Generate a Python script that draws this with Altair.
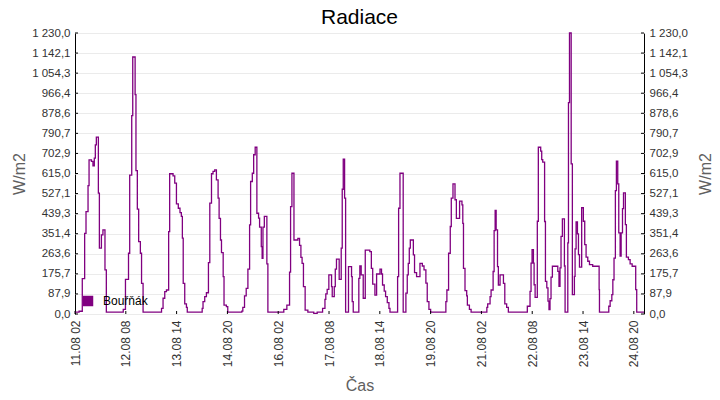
import altair as alt
import pandas as pd

title_text = "Radiace"
series_name = "Bouřňák"
x_title = "Čas"
y_title = "W/m2"

# hours since 11.08 02:00 where the step value changes
hours = [
    0, 2.4, 4.3, 5.7, 6.5, 7.7, 8.3, 9.7, 10.6, 11.4, 12.0, 12.6, 13.8, 14.4, 15.6, 16.5, 17.7, 18.5,
    28.5, 29.8, 31.6, 32.3, 33.5, 34.1, 35.5, 36.0, 36.8, 37.6, 38.6, 39.3, 40.2,
    51.1, 52.0, 53.0, 54.0, 55.3, 55.9, 57.9, 58.9, 59.9, 61.0, 62.0, 62.8, 63.4, 63.9, 64.8, 65.8, 66.3,
    75.1, 75.6, 76.6, 77.6, 78.8, 79.6, 80.6, 81.5, 82.5, 83.5, 84.5, 85.1, 85.9, 86.5, 87.5, 88.0, 89.4, 90.2,
    98.5, 99.1, 100.1, 101.1, 102.1, 103.1, 103.7, 104.7, 105.5, 106.4, 107.4, 108.4, 109.0, 110.0, 110.5, 111.0, 111.8, 113.3, 113.9,
    123.3, 125.1, 126.7, 127.3, 128.1, 129.3, 131.6, 132.6, 133.4, 134.1, 134.9, 135.9, 137.5, 141.0, 143.0,
    146.2, 147.6, 148.1, 148.9, 149.9, 151.5, 151.9, 153.1, 153.7, 154.4, 156.0, 157.2, 157.8, 158.4, 159.2, 159.8, 161.5, 163.3, 163.7, 164.3,
    167.6, 168.2, 169.0, 170.2, 171.4, 174.1, 175.0, 175.8, 177.1, 178.1, 180.1, 181.0, 181.6, 182.6, 183.4, 184.4, 185.4, 186.0,
    190.5, 191.1, 191.9, 193.8, 195.4, 196.2, 196.8, 197.4, 198.0, 199.8, 200.5, 201.7, 203.7, 205.1, 206.1, 207.2, 208.0, 209.0, 210.0,
    219.0, 219.6, 220.6, 221.6, 222.2, 223.2, 224.4, 225.2, 227.1, 228.5, 229.0, 229.4, 230.3, 231.3, 231.7, 232.9, 233.9,
    243.2, 243.7, 245.1, 245.7, 246.9, 247.5, 248.1, 248.7, 249.5, 250.0, 251.0, 253.0, 253.8, 254.9, 255.9,
    267.1, 268.7, 269.3, 269.9, 270.7, 271.1, 271.7, 273.0, 273.6, 275.0, 275.6, 276.2, 277.3, 277.8, 278.6, 279.3, 279.9,
    280.5, 281.1, 281.9, 285.1, 285.8, 286.4, 287.0, 287.8, 289.0, 289.4,
    291.0, 291.4, 292.0, 293.0, 293.7, 294.9, 295.3, 295.9, 296.7, 297.3, 297.9, 299.2, 300.2, 301.0, 301.8, 302.8, 303.8, 305.7, 309.5, 309.7,
    315.2, 316.0, 317.0, 317.6, 318.3, 319.1, 319.7, 320.5, 321.1, 321.9, 322.5, 323.3, 323.9, 325.0, 325.6, 326.8, 327.8, 329.0, 331.1, 331.7, 336.0,
]

radiation = [
    8, 12, 155, 353, 448, 562, 675, 668, 648, 682, 740, 774, 529, 288, 346, 368, 193, 8,
    20, 152, 266, 608, 868, 1125, 960, 628, 459, 317, 266, 134, 8,
    25, 69, 98, 105, 361, 614, 605, 573, 482, 463, 444, 427, 332, 134, 44, 29, 8,
    25, 54, 76, 93, 225, 485, 614, 624, 631, 587, 507, 419, 324, 269, 164, 39, 32, 8,
    13, 29, 79, 112, 196, 390, 580, 616, 697, 730, 441, 420, 380, 295, 244, 380, 427, 219, 8,
    20, 39, 183, 470, 616, 324, 331, 300, 248, 222, 120, 17, 8, 3, 8,
    25, 64, 88, 108, 171, 120, 76, 120, 196, 240, 152, 288, 546, 678, 507, 8, 207, 164, 54, 8,
    156, 210, 171, 69, 280, 273, 200, 131, 83, 175, 196, 175, 127, 100, 76, 50, 25, 8,
    164, 463, 616, 8, 91, 171, 222, 288, 324, 259, 181, 164, 222, 210, 193, 135, 54, 20, 8,
    54, 105, 266, 383, 507, 570, 500, 419, 494, 478, 397, 200, 102, 79, 39, 20, 8,
    29, 44, 76, 105, 186, 365, 453, 368, 207, 127, 171, 134, 44, 29, 8,
    34, 99, 223, 282, 223, 128, 73, 406, 730, 713, 676, 665, 405, 143, 114, 56, 19,
    67, 161, 209, 187, 121, 202, 340, 416, 210, 8,
    311, 925, 1230, 657, 85, 165, 285, 403, 351, 260, 205, 465, 406, 304, 249, 231, 216, 209, 107, 8,
    34, 58, 85, 150, 245, 540, 669, 570, 355, 253, 355, 461, 530, 391, 249, 238, 219, 209, 107, 8, 8,
]

x_tick_hours = [0, 30, 60, 90, 120, 150, 180, 210, 240, 270, 300, 330]
x_tick_labels = ["11.08 02", "12.08 08", "13.08 14", "14.08 20", "16.08 02", "17.08 08",
                 "18.08 14", "19.08 20", "21.08 02", "22.08 08", "23.08 14", "24.08 20"]
y_max = 1230
y_ticks = [round(y_max * i / 14, 4) for i in range(15)]

df = pd.DataFrame({"t": hours, "v": radiation, "s": series_name})
df_xt = pd.DataFrame({"t": x_tick_hours})
df_yt = pd.DataFrame({"v": y_ticks})
df_title = pd.DataFrame({"title": [title_text]})

purple = "#800080"
font = "Liberation Sans"
W, H = 569, 281

label_arr = "[" + ",".join("'" + s + "'" for s in x_tick_labels) + "]"
x_label_expr = label_arr + "[round(datum.value / 30)]"
y_label_expr = "replace(replace(format(datum.value, ',.1f'), ',', ' '), '.', ',')"

x_axis = alt.Axis(values=x_tick_hours, labelExpr=x_label_expr, labelAngle=270,
                  title=x_title, grid=False, ticks=False, domain=False,
                  labelPadding=6, labelFontSize=12, labelColor="#333333", labelFont=font,
                  titleFontSize=16, titleColor="#606060", titleFont=font,
                  titleFontWeight="normal", labelOverlap=False,
                  titleX=W / 2, titleY=76, titleBaseline="alphabetic", titleAlign="center")
x_enc = alt.X("t:Q", scale=alt.Scale(domain=[0, 336], nice=False, zero=False), axis=x_axis)
y_scale = alt.Scale(domain=[0, y_max], nice=False, zero=True)

common_y_axis = dict(values=y_ticks, labelExpr=y_label_expr, title=y_title, ticks=False,
                     domain=False, labelFontSize=11.5, labelColor="#333333", labelFont=font,
                     titleFontSize=16, titleColor="#606060", titleFont=font,
                     titleFontWeight="normal", labelPadding=5, titleAngle=270,
                     titleBaseline="middle", titleAlign="center", titleY=H / 2,
                     labelOverlap=False)

line = alt.Chart(df).mark_line(interpolate="step-after", strokeWidth=1.3).encode(
    x=x_enc,
    y=alt.Y("v:Q", scale=y_scale,
            axis=alt.Axis(orient="left", grid=True, gridColor="#ebebeb", gridWidth=1,
                          titleX=-56, **common_y_axis)),
    color=alt.Color("s:N", scale=alt.Scale(range=[purple]),
                    legend=alt.Legend(title=None, orient="bottom-left", symbolType="square",
                                      symbolFillColor=purple, symbolStrokeColor=purple,
                                      symbolStrokeWidth=0, symbolSize=110, labelFontSize=12,
                                      labelColor="#000000", labelFont=font, labelOffset=9,
                                      offset=7, padding=0)),
)

right = alt.Chart(df).mark_line(interpolate="step-after", opacity=0).encode(
    x=x_enc,
    y=alt.Y("v:Q", scale=y_scale,
            axis=alt.Axis(orient="right", grid=False, titleX=61, **common_y_axis)),
)

xticks = alt.Chart(df_xt).mark_rule(color="black", strokeWidth=1).encode(
    x=x_enc, y=alt.value(H), y2=alt.value(H - 3))
lticks = alt.Chart(df_yt).mark_rule(color="black", strokeWidth=1).encode(
    y=alt.Y("v:Q", scale=y_scale, axis=None), x=alt.value(0), x2=alt.value(3))
rticks = alt.Chart(df_yt).mark_rule(color="black", strokeWidth=1).encode(
    y=alt.Y("v:Q", scale=y_scale, axis=None), x=alt.value(W - 3), x2=alt.value(W))

title_mark = alt.Chart(df_title).mark_text(
    fontSize=21, font=font, color="#000000", align="center", baseline="alphabetic"
).encode(text="title:N", x=alt.value(W / 2), y=alt.value(-9.5))

chart = alt.layer(line, right, xticks, lticks, rticks, title_mark).resolve_scale(
    y="shared").resolve_axis(y="independent").properties(
    width=W, height=H,
    autosize="none",
    padding={"left": 67, "top": 25, "right": 68, "bottom": 78},
    background="white",
).configure_view(stroke="black", strokeWidth=1)

chart.save("out.html", embed_options={"renderer": "svg", "actions": False})
